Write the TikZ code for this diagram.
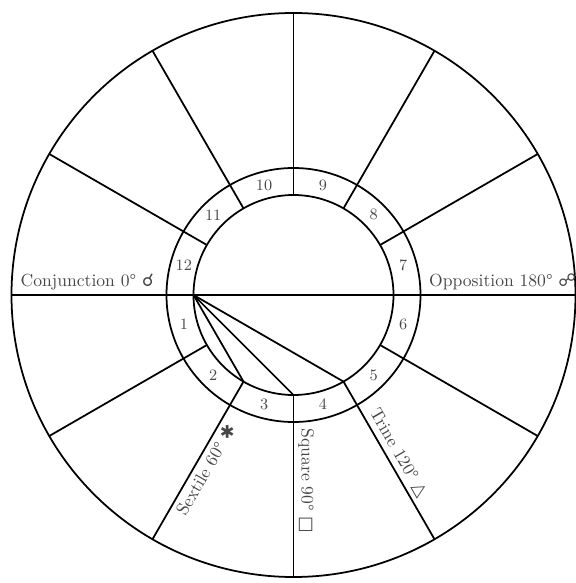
\documentclass[tikz,border=0pt]{standalone}
\usepackage{fontspec}
\newfontfamily\symfont{DejaVu Sans}
\usetikzlibrary{positioning}

\begin{document}
\begin{tikzpicture}[every node/.style={font=\normalsize,text=black!72},
  housenum/.style={font=\small,inner sep=0pt},
  aspectlbl/.style={inner sep=2.5pt}]
\useasboundingbox (-5.87,-5.76) rectangle (5.65,5.9);
\coordinate (o) at (0,0);
\coordinate (i0) at (0:2);
\coordinate (i30) at (30:2);
\coordinate (i60) at (60:2);
\coordinate (i90) at (90:2);
\coordinate (i120) at (120:2);
\coordinate (i150) at (150:2);
\coordinate (i180) at (180:2);
\coordinate (i210) at (210:2);
\coordinate (i240) at (240:2);
\coordinate (i270) at (270:2);
\coordinate (i300) at (300:2);
\coordinate (i330) at (330:2);
\coordinate (e0) at (0:5.64);
\coordinate (e30) at (30:5.64);
\coordinate (e60) at (60:5.64);
\coordinate (e90) at (90:5.64);
\coordinate (e120) at (120:5.64);
\coordinate (e150) at (150:5.64);
\coordinate (e180) at (180:5.64);
\coordinate (e210) at (210:5.64);
\coordinate (e240) at (240:5.64);
\coordinate (e270) at (270:5.64);
\coordinate (e300) at (300:5.64);
\coordinate (e330) at (330:5.64);
\draw[line width=1pt] (o) circle (5.64);
\draw[line width=1pt] (o) circle (2.54);
\draw[line width=1pt] (o) circle (2);
\draw[line width=1pt] (e180)--(e0);
\draw[line width=1pt] (i30)--(e30);
\draw[line width=1pt] (i60)--(e60);
\draw[line width=1pt] (i90)--(e90);
\draw[line width=1pt] (i120)--(e120);
\draw[line width=1pt] (i150)--(e150);
\draw[line width=1pt] (i210)--(e210);
\draw[line width=1pt] (i240)--(e240);
\draw[line width=1pt] (i270)--(e270);
\draw[line width=1pt] (i300)--(e300);
\draw[line width=1pt] (i330)--(e330);
\draw[line width=1pt](i180)--(i240);
\draw[line width=1pt](i180)--(i270);
\draw[line width=1pt](i180)--(i300);
\node[housenum] (h1) at (195:2.27) {1};
\node[housenum] (h2) at (225:2.27) {2};
\node[housenum] (h3) at (255:2.27) {3};
\node[housenum] (h4) at (285:2.27) {4};
\node[housenum] (h5) at (315:2.27) {5};
\node[housenum] (h6) at (345:2.27) {6};
\node[housenum] (h7) at (15:2.27) {7};
\node[housenum] (h8) at (45:2.27) {8};
\node[housenum] (h9) at (75:2.27) {9};
\node[housenum] (h10) at (105:2.27) {10};
\node[housenum] (h11) at (135:2.27) {11};
\node[housenum] (h12) at (165:2.27) {12};
\node[aspectlbl,anchor=south west] (conj) at (-5.55,0) {Conjunction 0° {\symfont ☌}};
\node[aspectlbl,anchor=south west] (oppo) at (2.62,0) {Opposition 180° {\symfont ☍}};
\node[aspectlbl,anchor=north,rotate=60] (sext) at (240:3.9) {Sextile 60° {\symfont ✱}};
\node[aspectlbl,anchor=south,rotate=-90] (squa) at (270:3.72) {Square 90° {\symfont □}};
\node[aspectlbl,anchor=south,rotate=-60] (trin) at (300:3.79) {Trine 120° {\symfont △}};
\end{tikzpicture}
\end{document}
